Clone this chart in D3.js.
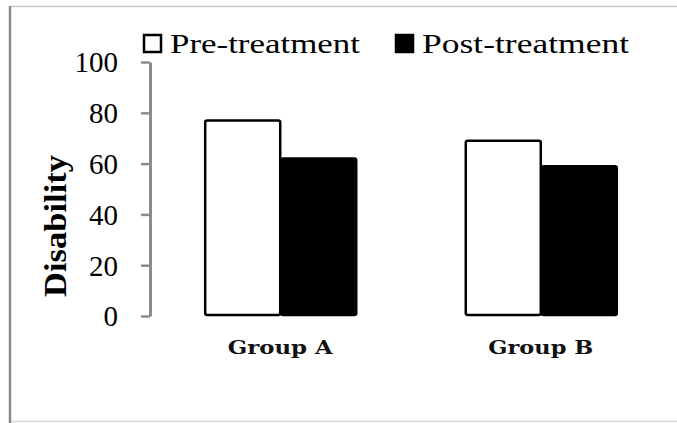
<!DOCTYPE html>
<html>
<head>
<meta charset="utf-8">
<script src="https://cdn.jsdelivr.net/npm/d3@7"></script>
<style>
  html, body { margin: 0; padding: 0; background: #fff; }
  svg { display: block; }
</style>
</head>
<body>
<svg id="chart" width="677" height="423"></svg>
<script>
const groups = ["Group A", "Group B"];
const seriesNames = ["Pre-treatment", "Post-treatment"];
const preValues = [77, 69];
const postValues = [62, 59];
const yTicks = [0, 20, 40, 60, 80, 100];
const yLabel = "Disability";

const svg = d3.select("#chart");

// outer frame
svg.append("line").attr("x1", 10).attr("x2", 677).attr("y1", 6.5).attr("y2", 6.5)
  .attr("stroke", "#c8c8c8").attr("stroke-width", 1.5);
svg.append("line").attr("x1", 10).attr("x2", 677).attr("y1", 421.5).attr("y2", 421.5)
  .attr("stroke", "#d8d8d8").attr("stroke-width", 1.5);
svg.append("line").attr("x1", 10).attr("x2", 10).attr("y1", 6).attr("y2", 423)
  .attr("stroke", "#8a8a8a").attr("stroke-width", 2.5);

const y = d3.scaleLinear().domain([0, 100]).range([316, 62]);
const x0 = d3.scaleBand().domain(groups).range([150, 671]).paddingInner(0.4165).paddingOuter(0.208);
const x1 = d3.scaleBand().domain(seriesNames).range([0, x0.bandwidth()]);

const serif = "'Liberation Serif', 'Times New Roman', Times, serif";

// y axis
const yAxis = d3.axisLeft(y).tickValues(yTicks).tickSize(9).tickPadding(23).tickSizeOuter(0);
const ga = svg.append("g").attr("transform", "translate(150,0)").call(yAxis);
ga.select(".domain").attr("stroke", "#8c8c8c").attr("stroke-width", 3);
ga.selectAll(".tick line").attr("stroke", "#8c8c8c").attr("stroke-width", 2.5);
ga.selectAll(".tick text")
  .attr("font-family", serif)
  .attr("font-size", 29).attr("fill", "#000").attr("dy", "0.34em");

// y label
svg.append("text")
  .attr("transform", "translate(66,226) rotate(-90)")
  .attr("text-anchor", "middle")
  .attr("font-family", serif)
  .attr("font-weight", "bold").attr("font-size", 32)
  .attr("textLength", 142).attr("lengthAdjust", "spacingAndGlyphs")
  .text(yLabel);

// bars
const data = groups.map((g, i) => ({ group: g, vals: [preValues[i], postValues[i]] }));
const gg = svg.selectAll("g.grp").data(data).join("g")
  .attr("class", "grp")
  .attr("transform", d => `translate(${x0(d.group)},0)`);
gg.selectAll("rect").data(d => d.vals.map((v, j) => ({ s: seriesNames[j], v })))
  .join("rect")
  .attr("x", d => x1(d.s) + 1)
  .attr("width", x1.bandwidth() - 1)
  .attr("y", d => y(d.v))
  .attr("height", d => y(0) - y(d.v) - 1)
  .attr("rx", 2)
  .attr("fill", d => d.s === seriesNames[0] ? "#fff" : "#000")
  .attr("stroke", "#000").attr("stroke-width", 2.5);

// group labels
svg.selectAll("text.grp").data(groups).join("text")
  .attr("class", "grp")
  .attr("x", d => x0(d) + x0.bandwidth() / 2)
  .attr("y", 354)
  .attr("text-anchor", "middle")
  .attr("font-family", "'DejaVu Serif', serif")
  .attr("font-weight", "bold").attr("font-size", 19)
  .attr("textLength", 105).attr("lengthAdjust", "spacingAndGlyphs")
  .attr("fill", "#111")
  .text(d => d);

// legend
const legendX = [143, 395];
const legendLen = [190, 207];
seriesNames.forEach((s, i) => {
  svg.append("rect")
    .attr("x", legendX[i] + 1).attr("y", 35).attr("width", 17).attr("height", 17)
    .attr("fill", i === 0 ? "#fff" : "#000")
    .attr("stroke", "#000").attr("stroke-width", 2.5);
  svg.append("text")
    .attr("x", legendX[i] + 27).attr("y", 53)
    .attr("font-family", serif)
    .attr("font-size", 28)
    .attr("textLength", legendLen[i]).attr("lengthAdjust", "spacingAndGlyphs")
    .attr("fill", "#000")
    .text(s);
});
</script>
</body>
</html>
